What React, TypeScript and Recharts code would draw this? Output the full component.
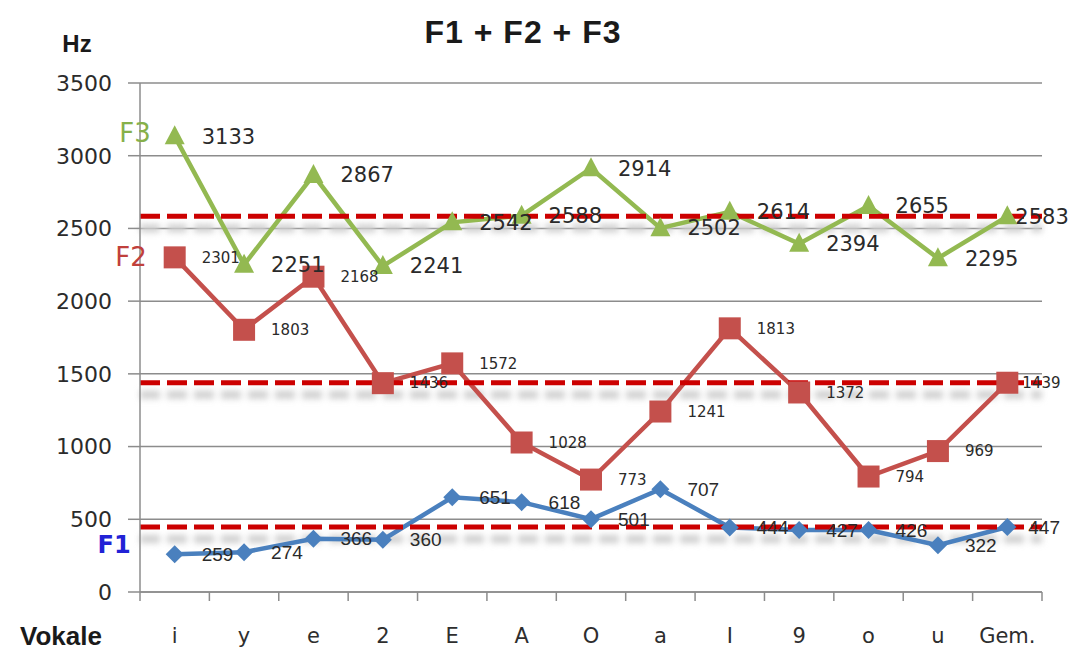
import React from 'react';
import { LineChart, Line, XAxis, YAxis, CartesianGrid, ReferenceLine } from 'recharts';

// vowels on the x axis, last column is the mean ("Gem.")
const vowels = ['i', 'y', 'e', '2', 'E', 'A', 'O', 'a', 'I', '9', 'o', 'u', 'Gem.'];
const f1 = [259, 274, 366, 360, 651, 618, 501, 707, 444, 427, 426, 322, 447];
const f2 = [2301, 1803, 2168, 1436, 1572, 1028, 773, 1241, 1813, 1372, 794, 969, 1439];
const f3 = [3133, 2251, 2867, 2241, 2542, 2588, 2914, 2502, 2614, 2394, 2655, 2295, 2583];
const yTicks = [0, 500, 1000, 1500, 2000, 2500, 3000, 3500];

const W = 1068;
const H = 654;
const Y_AXIS_W = 140;
const RIGHT = 26;
const BAND = (W - Y_AXIS_W - RIGHT) / vowels.length;
const GRID = '#8c8c8c';
const NUM_FONT = 'DejaVu Sans';

const data = vowels.map((v, i) => ({ v, f1: f1[i], f2: f2[i], f3: f3[i] }));

type SeriesCfg = {
  key: 'f1' | 'f2' | 'f3';
  name: string;
  color: string;
  nameColor: string;
  nameDx: number;
  nameDy: number;
  nameBold: boolean;
  labelFont: string;
  labelSize: number;
  lastDx: number;
  marker: 'diamond' | 'square' | 'triangle';
};

const series: SeriesCfg[] = [
  { key: 'f3', name: 'F3', color: '#93b951', nameColor: '#86b04a', nameDx: -24, nameDy: -3, nameBold: false, labelFont: NUM_FONT, labelSize: 21, lastDx: 8, marker: 'triangle' },
  { key: 'f2', name: 'F2', color: '#c4504c', nameColor: '#c0403c', nameDx: -28, nameDy: 0, nameBold: false, labelFont: NUM_FONT, labelSize: 15, lastDx: 15, marker: 'square' },
  { key: 'f1', name: 'F1', color: '#4a80be', nameColor: '#2222d6', nameDx: -44, nameDy: -10, nameBold: true, labelFont: 'Liberation Sans', labelSize: 19, lastDx: 21, marker: 'diamond' },
];

const meanOf = (arr: number[]) => arr[arr.length - 1];
const means = [meanOf(f3), meanOf(f2), meanOf(f1)];

const makeDot = (s: SeriesCfg) => (p: any) => {
  const { cx, cy, index } = p;
  if (cx == null || cy == null) return <g key={`${s.key}-d${index}`} />;
  if (s.marker === 'square') {
    return <rect key={`${s.key}-d${index}`} x={cx - 11} y={cy - 11} width={22} height={22} fill={s.color} />;
  }
  if (s.marker === 'triangle') {
    return (
      <polygon
        key={`${s.key}-d${index}`}
        points={`${cx},${cy - 11} ${cx + 10},${cy + 8} ${cx - 10},${cy + 8}`}
        fill={s.color}
      />
    );
  }
  return (
    <polygon
      key={`${s.key}-d${index}`}
      points={`${cx},${cy - 9} ${cx + 9},${cy} ${cx},${cy + 9} ${cx - 9},${cy}`}
      fill={s.color}
    />
  );
};

const makeLabel = (s: SeriesCfg) => (p: any) => {
  const { x, y, value, index } = p;
  const dx = index === vowels.length - 1 ? s.lastDx : 27;
  return (
    <g key={`${s.key}-l${index}`}>
      <text x={x + dx} y={y} dy="0.35em" fontFamily={s.labelFont} fontSize={s.labelSize} fill="#2a2a2a">
        {value}
      </text>
      {index === 0 && (
        <text
          x={x + s.nameDx}
          y={y + s.nameDy}
          dy="0.35em"
          textAnchor="end"
          fontFamily={NUM_FONT}
          fontWeight={s.nameBold ? 'bold' : 'normal'}
          fontSize={s.nameBold ? 24 : 26}
          fill={s.nameColor}
        >
          {s.name}
        </text>
      )}
    </g>
  );
};

const VowelTick = (p: any) => {
  const { x, y, payload, index } = p;
  return (
    <g>
      <line x1={x - BAND / 2} x2={x - BAND / 2} y1={y} y2={y + 9} stroke={GRID} strokeWidth={1.5} />
      {index === vowels.length - 1 && (
        <line x1={x + BAND / 2} x2={x + BAND / 2} y1={y} y2={y + 9} stroke={GRID} strokeWidth={1.5} />
      )}
      <text x={x} y={y + 51} textAnchor="middle" fontFamily={NUM_FONT} fontSize={21} fill="#2e2e2e">
        {payload.value}
      </text>
    </g>
  );
};

const shadowShape = (p: any) => (
  <line
    x1={p.x1}
    x2={p.x2}
    y1={p.y1 + 12}
    y2={p.y2 + 12}
    stroke="#cfcfcf"
    strokeWidth={8}
    strokeDasharray="20 7"
    filter="url(#shadowBlur)"
  />
);

export default function App() {
  return (
    <div style={{ position: 'absolute', left: 0, top: 0, width: W, height: H, background: '#fff' }}>
      <LineChart width={W} height={H} data={data} margin={{ top: 83, right: RIGHT, bottom: 0, left: 0 }}>
        <defs>
          <filter id="shadowBlur" filterUnits="userSpaceOnUse" x={0} y={0} width={W} height={H}>
            <feGaussianBlur stdDeviation="3.2" />
          </filter>
        </defs>
        <CartesianGrid vertical={false} stroke={GRID} strokeWidth={1.5} />
        <XAxis
          dataKey="v"
          height={62}
          interval={0}
          padding={{ left: BAND / 2, right: BAND / 2 }}
          tickSize={0}
          tickMargin={0}
          tickLine={false}
          axisLine={{ stroke: GRID, strokeWidth: 1.5 }}
          tick={<VowelTick />}
        />
        <YAxis
          width={Y_AXIS_W}
          domain={[0, 3500]}
          ticks={yTicks}
          interval={0}
          tickSize={12}
          tickMargin={16}
          axisLine={{ stroke: GRID, strokeWidth: 1.5 }}
          tickLine={{ stroke: GRID, strokeWidth: 1.5 }}
          tick={{ fill: '#2b2b2b', fontSize: 22, fontFamily: NUM_FONT }}
        />
        {means.map((m, i) => (
          <ReferenceLine key={`sh${i}`} y={m} shape={shadowShape} />
        ))}
        {series.map((s) => (
          <Line
            key={s.key}
            dataKey={s.key}
            stroke={s.color}
            strokeWidth={4.5}
            dot={makeDot(s)}
            activeDot={false}
            label={makeLabel(s)}
            isAnimationActive={false}
          />
        ))}
        {means.map((m, i) => (
          <ReferenceLine key={`m${i}`} y={m} stroke="#cc0000" strokeWidth={5} strokeDasharray="20 7" />
        ))}
      </LineChart>
      <svg width={W} height={H} style={{ position: 'absolute', left: 0, top: 0, pointerEvents: 'none' }}>
        <text x={523} y={43} textAnchor="middle" fontFamily="Liberation Sans" fontWeight="bold" fontSize={32} letterSpacing={1} fill="#1a1a1a">
          F1 + F2 + F3
        </text>
        <text x={77} y={52} textAnchor="middle" fontFamily="Liberation Sans" fontWeight="bold" fontSize={24} fill="#1a1a1a">
          Hz
        </text>
        <text x={20} y={645} fontFamily="Liberation Sans" fontWeight="bold" fontSize={26} fill="#1a1a1a">
          Vokale
        </text>
      </svg>
    </div>
  );
}
